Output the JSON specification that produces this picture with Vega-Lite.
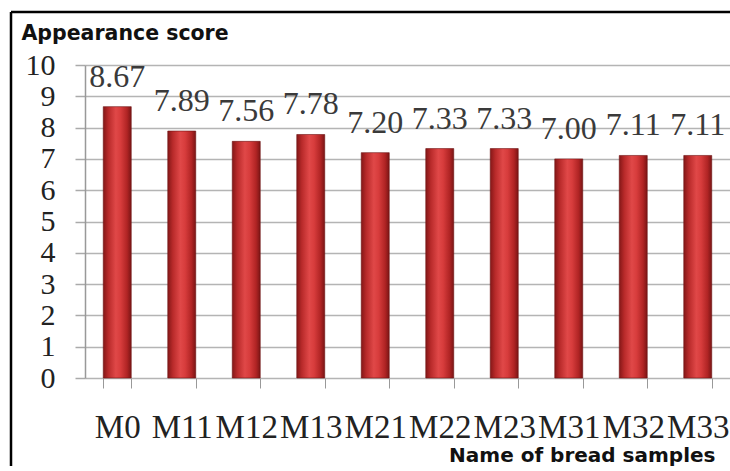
{
  "$schema": "https://vega.github.io/schema/vega-lite/v6.json",
  "autosize": "none",
  "width": 645,
  "height": 313,
  "padding": {"left": 85, "top": 65, "right": 0, "bottom": 88},
  "background": "white",
  "config": {
    "view": {"stroke": null},
    "axis": {"labelFont": "Liberation Serif", "titleFont": "DejaVu Sans"}
  },
  "data": {
    "values": [
      {"sample": "M0", "score": 8.67},
      {"sample": "M11", "score": 7.89},
      {"sample": "M12", "score": 7.56},
      {"sample": "M13", "score": 7.78},
      {"sample": "M21", "score": 7.20},
      {"sample": "M22", "score": 7.33},
      {"sample": "M23", "score": 7.33},
      {"sample": "M31", "score": 7.00},
      {"sample": "M32", "score": 7.11},
      {"sample": "M33", "score": 7.11}
    ]
  },
  "encoding": {
    "x": {
      "field": "sample",
      "type": "nominal",
      "sort": null,
      "scale": {"paddingInner": 0.566, "paddingOuter": 0.283},
      "axis": {
        "title": "Name of bread samples",
        "titleFontSize": 20,
        "titleFontWeight": "bold",
        "titleColor": "#111",
        "titleAnchor": null,
        "titleAlign": "right",
        "titleBaseline": "alphabetic",
        "titleX": 630,
        "titleY": 83,
        "labelAngle": 0,
        "labelFontSize": 33,
        "labelColor": "#222",
        "labelBaseline": "alphabetic",
        "labelPadding": 49,
        "labelOverlap": false,
        "tickBand": "extent",
        "tickSize": 10,
        "tickColor": "#999",
        "domain": false,
        "grid": false
      }
    },
    "y": {
      "field": "score",
      "type": "quantitative",
      "scale": {"domain": [0, 10]},
      "axis": {
        "title": "Appearance score",
        "titleFontSize": 20.5,
        "titleFontWeight": "bold",
        "titleColor": "#111",
        "titleAngle": 0,
        "titleAnchor": null,
        "titleAlign": "left",
        "titleBaseline": "alphabetic",
        "titleX": -64,
        "titleY": -26,
        "values": [0, 1, 2, 3, 4, 5, 6, 7, 8, 9, 10],
        "labelFontSize": 30,
        "labelColor": "#222",
        "labelPadding": 20,
        "labelBaseline": "middle",
        "labelOverlap": false,
        "labelBound": false,
        "tickSize": 10,
        "tickColor": "#aaa",
        "tickWidth": 1.5,
        "gridColor": "#b4b4b4",
        "gridWidth": 1.5,
        "domainColor": "#999",
        "domainWidth": 1.5
      }
    }
  },
  "layer": [
    {
      "mark": {
        "type": "bar",
        "stroke": "#6e1212",
        "strokeWidth": 0.6,
        "color": {
          "gradient": "linear",
          "x1": 0, "x2": 1, "y1": 0, "y2": 0,
          "stops": [
            {"offset": 0, "color": "#841717"},
            {"offset": 0.18, "color": "#b82a2a"},
            {"offset": 0.45, "color": "#e04848"},
            {"offset": 0.62, "color": "#d73c3c"},
            {"offset": 0.85, "color": "#b02424"},
            {"offset": 1, "color": "#7a1515"}
          ]
        }
      }
    },
    {
      "mark": {
        "type": "text",
        "font": "Liberation Serif",
        "fontSize": 32,
        "color": "#3a3a3a",
        "baseline": "alphabetic",
        "dy": -20
      },
      "encoding": {"text": {"field": "score", "type": "quantitative", "format": ".2f"}}
    },
    {
      "data": {"values": [{"edge": "top"}]},
      "mark": {"type": "rule", "color": "#000", "strokeWidth": 2.5, "clip": false},
      "encoding": {
        "x": {"value": -74},
        "x2": {"value": 645},
        "y": {"value": -53},
        "y2": {"value": -53}
      }
    },
    {
      "data": {"values": [{"edge": "left"}]},
      "mark": {"type": "rule", "color": "#000", "strokeWidth": 2.5, "clip": false},
      "encoding": {
        "x": {"value": -74},
        "x2": {"value": -74},
        "y": {"value": -53},
        "y2": {"value": 401}
      }
    }
  ]
}
